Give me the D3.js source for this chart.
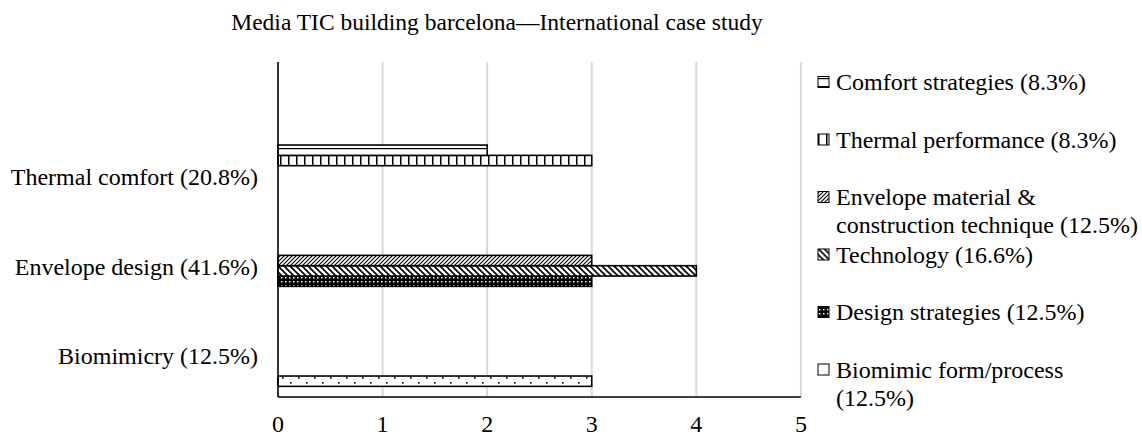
<!DOCTYPE html>
<html><head><meta charset="utf-8">
<script src="https://cdn.jsdelivr.net/npm/d3@7"></script>
<style>body{margin:0;background:#fff}svg{display:block}svg text{font-family:"Liberation Serif","Times New Roman",serif;fill:#000}</style>
</head><body><svg id="c" width="1142" height="439"></svg>
<script>
const title = "Media TIC building barcelona\u2014International case study";
const categories = ["Thermal comfort (20.8%)", "Envelope design (41.6%)", "Biomimicry (12.5%)"];
const seriesNames = ["Biomimic form/process (12.5%)", "Design strategies (12.5%)", "Technology (16.6%)", "Envelope material & construction technique (12.5%)", "Thermal performance (8.3%)", "Comfort strategies (8.3%)"];
const legendLines = [["Biomimic form/process", "(12.5%)"], ["Design strategies (12.5%)"], ["Technology (16.6%)"], ["Envelope material &", "construction technique (12.5%)"], ["Thermal performance (8.3%)"], ["Comfort strategies (8.3%)"]];
// values per series, aligned with categories
const biomimicValues = [null, null, 3];
const designValues = [null, 3, null];
const technologyValues = [null, 4, null];
const envelopeMaterialValues = [null, 3, null];
const thermalPerfValues = [3, null, null];
const comfortValues = [2, null, null];
const seriesValues = [biomimicValues, designValues, technologyValues, envelopeMaterialValues, thermalPerfValues, comfortValues];
const xTicks = [0, 1, 2, 3, 4, 5];

const svg = d3.select("#c");
const FS = 24;
const defs = svg.append("defs");
function pat(id, w, h, draw, bg) {
  const p = defs.append("pattern").attr("id", id).attr("patternUnits", "userSpaceOnUse").attr("width", w).attr("height", h);
  p.append("rect").attr("width", w).attr("height", h).attr("fill", bg || "#fff");
  draw(p);
}
pat("p0", 16, 10, p => { p.append("rect").attr("x", 2).attr("y", 2).attr("width", 1.6).attr("height", 1.6).attr("fill", "#000"); p.append("rect").attr("x", 10).attr("y", 7).attr("width", 1.6).attr("height", 1.6).attr("fill", "#000"); });
pat("p1", 4, 4, p => { p.append("rect").attr("x", 1).attr("y", 1).attr("width", 1.5).attr("height", 1.5).attr("fill", "#fff"); }, "#000");
pat("p2", 6, 6, p => { p.append("path").attr("d", "M-1,-1 L7,7 M-1,5 L1,7 M5,-1 L7,1").attr("stroke", "#000").attr("stroke-width", 1.6); });
pat("p3", 4, 4, p => { p.append("path").attr("d", "M-1,5 L5,-1 M-1,1 L1,-1 M3,5 L5,3").attr("stroke", "#000").attr("stroke-width", 1.1); });
pat("p4", 8, 8, p => { p.append("rect").attr("x", 0).attr("y", 0).attr("width", 1.5).attr("height", 8).attr("fill", "#000"); });
pat("p5", 8, 8, p => { p.append("rect").attr("x", 0).attr("y", 4).attr("width", 8).attr("height", 1.2).attr("fill", "#000"); });
pat("pe", 8, 8, p => {});

const x = d3.scaleLinear().domain([0, 5]).range([278, 800.9]);
const y0 = d3.scaleBand().domain(categories).range([131.2, 400.2]);
const y1 = d3.scaleBand().domain(seriesNames.slice().reverse()).range([0, y0.bandwidth()]).paddingOuter(1.34);
const plotTop = 62, plotBottom = 397;

// gridlines
svg.append("g").selectAll("line").data(xTicks.filter(d => d > 0)).join("line")
  .attr("x1", d => x(d)).attr("x2", d => x(d)).attr("y1", plotTop).attr("y2", plotBottom)
  .attr("stroke", "#d9d9d9").attr("stroke-width", 2);

// bars
const bars = [];
seriesValues.forEach((vals, si) => vals.forEach((v, ci) => { if (v != null) bars.push({ s: si, c: categories[ci], v }); }));
svg.append("g").selectAll("rect").data(bars).join("rect")
  .attr("x", x(0)).attr("y", d => y0(d.c) + y1(seriesNames[d.s]))
  .attr("width", d => x(d.v) - x(0)).attr("height", y1.bandwidth())
  .attr("fill", d => `url(#p${d.s})`).attr("stroke", "#000").attr("stroke-width", 1.6);

// axes lines
svg.append("line").attr("x1", x(0)).attr("x2", x(0)).attr("y1", plotTop).attr("y2", plotBottom).attr("stroke", "#000").attr("stroke-width", 1.6);
svg.append("line").attr("x1", x(0)).attr("x2", x(5)).attr("y1", plotBottom).attr("y2", plotBottom).attr("stroke", "#000").attr("stroke-width", 1.6);

// x tick labels
svg.append("g").selectAll("text").data(xTicks).join("text")
  .attr("x", d => x(d)).attr("y", 424).attr("text-anchor", "middle").attr("dominant-baseline", "central")
  .attr("font-size", FS).text(d => d);

// category labels
svg.append("g").selectAll("text").data(categories).join("text")
  .attr("x", 258).attr("y", d => y0(d) + y0.bandwidth() / 2 + 1).attr("text-anchor", "end").attr("dominant-baseline", "central")
  .attr("font-size", FS).text(d => d);

// title
svg.append("text").attr("x", 497).attr("y", 22).attr("text-anchor", "middle").attr("dominant-baseline", "central").attr("font-size", 23.5).text(title);

// legend (reverse order)
const legOrder = d3.range(seriesNames.length).reverse();
const lg = svg.append("g").selectAll("g").data(legOrder).join("g")
  .attr("transform", (d, i) => `translate(818,${82 + i * 57.5})`);
lg.append("rect").attr("x", 0).attr("y", -5.5).attr("width", 11).attr("height", 11)
  .attr("fill", d => d === 0 ? "url(#pe)" : `url(#p${d})`).attr("stroke", "#000").attr("stroke-width", 1);
lg.each(function (d) {
  d3.select(this).selectAll("text").data(legendLines[d]).join("text")
    .attr("x", 18).attr("y", (t, j) => j * 28).attr("dominant-baseline", "central").attr("font-size", FS).text(t => t);
});
</script></body></html>
